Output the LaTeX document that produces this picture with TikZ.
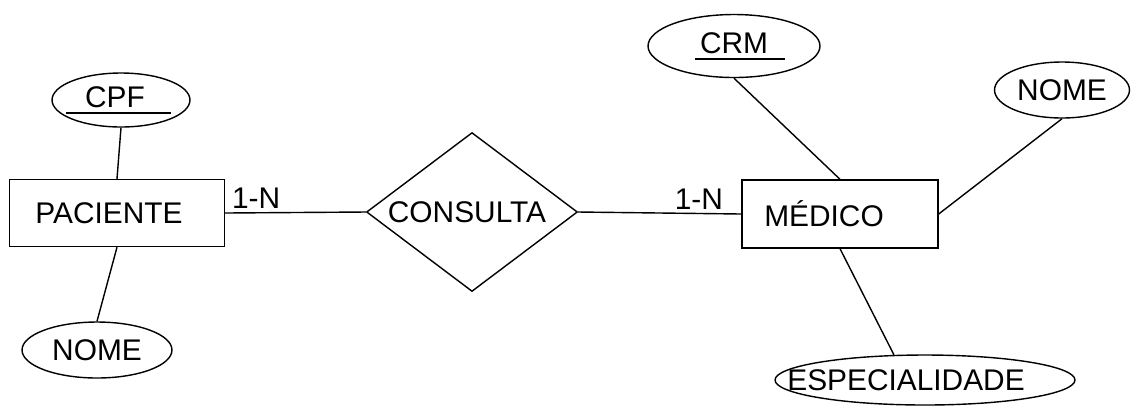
\documentclass[tikz,border=0pt]{standalone}
\usepackage{fontspec}
\setmainfont{Liberation Sans}
\usetikzlibrary{shapes.geometric}

% texto de largura zero, deslocado na horizontal
\newcommand{\txt}[2][0cm]{\makebox[0pt]{\kern#1\relax #2\kern-#1\relax}}

\tikzset{
  entity/.style={shape=rectangle,draw=black,fill=white,inner sep=0pt},
  attribute/.style={shape=ellipse,draw=black,fill=white,inner sep=0pt},
  relation/.style={shape=diamond,draw=black,fill=white,inner sep=0pt},
  card/.style={inner sep=2pt},
}

\begin{document}
\begin{tikzpicture}[x=0.02cm,y=-0.02cm,line width=0.8pt,font=\fontsize{17}{19}\selectfont]
		\useasboundingbox (0,0) rectangle (1138,414);
		\node [entity,minimum width=4.3cm,minimum height=1.34cm] (PAC) at (117,213) {\txt[-0.16cm]{PACIENTE}};
		\node [attribute,minimum width=2.76cm,minimum height=1.08cm] (CPF) at (121,100) {\raisebox{0.12cm}{\txt[-0.12cm]{CPF}}};
		\node [attribute,minimum width=3cm,minimum height=1.12cm] (NP) at (97,350) {\txt{NOME}};
		\node [relation,minimum width=4.22cm,minimum height=3.18cm,aspect=1.33] (CON) at (472,212) {\txt[-0.1cm]{CONSULTA}};
		\node [entity,minimum width=3.92cm,minimum height=1.36cm] (MED) at (840,214) {\txt[-0.32cm]{MÉDICO}};
		\node [attribute,minimum width=3.44cm,minimum height=1.26cm] (CRM) at (734,46) {\raisebox{0.1cm}{\txt{CRM}}};
		\node [attribute,minimum width=2.7cm,minimum height=1.12cm] (NM) at (1062,90) {\txt{NOME}};
		\node [attribute,minimum width=6cm,minimum height=1cm] (ESP) at (925,380) {\txt[-0.38cm]{ESPECIALIDADE}};
		% chaves
		\draw ([shift={(-55,13)}]CPF.center) -- ++(105,0);
		\draw ([shift={(-39,13)}]CRM.center) -- ++(90,0);
		% ligacoes
		\draw (CPF.south) -- (PAC.north);
		\draw (PAC.south) -- (NP.north);
		\draw (PAC.east) -- node [card,pos=0.22,above] {1-N} (CON.west);
		\draw (CON.east) -- node [card,pos=0.74,above] {1-N} (MED.west);
		\draw (CRM.south) -- (MED.north);
		\draw (NM.south) -- (MED.east);
		\draw (MED.south) -- (ESP.141);
	\end{tikzpicture}
\end{document}
